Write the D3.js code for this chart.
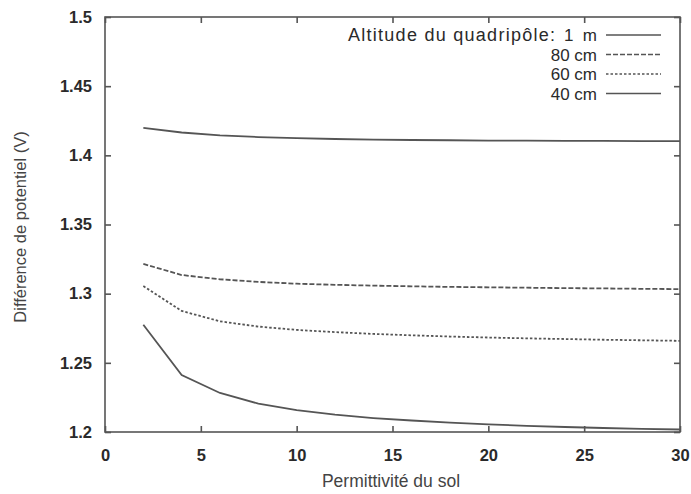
<!DOCTYPE html>
<html><head><meta charset="utf-8">
<script src="https://cdn.jsdelivr.net/npm/d3@7"></script>
<style>
body{margin:0;background:#fff;}
text{font-family:"Liberation Sans",Arial,Helvetica,sans-serif;}
</style></head>
<body>
<svg id="c" width="691" height="494"></svg>
<script>
const xValues = [2,4,6,8,10,12,14,16,18,20,22,24,26,28,30];
const seriesNames = ["1  m","80 cm","60 cm","40 cm"];
const alt1m  = [1.4198,1.4165,1.4145,1.4132,1.4124,1.4118,1.4114,1.4111,1.4109,1.4107,1.4106,1.4105,1.4104,1.4103,1.4102];
const alt80  = [1.3215,1.3135,1.3104,1.3085,1.3072,1.3064,1.3058,1.3053,1.3049,1.3046,1.3043,1.3040,1.3038,1.3035,1.3033];
const alt60  = [1.3055,1.2875,1.2800,1.2762,1.2738,1.2722,1.2709,1.2699,1.2690,1.2683,1.2677,1.2672,1.2667,1.2663,1.2659];
const alt40  = [1.2775,1.2412,1.2282,1.2205,1.2158,1.2125,1.2101,1.2083,1.2068,1.2055,1.2045,1.2036,1.2029,1.2023,1.2018];
const xTicks = [0,5,10,15,20,25,30];
const yTicks = [1.2,1.25,1.3,1.35,1.4,1.45,1.5];
const yTickLabels = ["1.2","1.25","1.3","1.35","1.4","1.45","1.5"];
const legendTitle = "Altitude du quadripôle:";
const xLabel = "Permittivité du sol";
const yLabel = "Différence de potentiel (V)";

const series = [alt1m, alt80, alt60, alt40];
const dashes = [null, "5,2", "2.5,2", null];
const col = "#555";
const txt = "#2a2a2a";
const txt2 = "#444";

const L=105, R=680, T=17, B=432;
const svg = d3.select("#c");
const x = d3.scaleLinear().domain([0,30]).range([L,R]);
const y = d3.scaleLinear().domain([1.2,1.5]).range([B,T]);

// frame
svg.append("rect").attr("x",L).attr("y",T).attr("width",R-L).attr("height",B-T)
  .attr("fill","none").attr("stroke",col).attr("stroke-width",1.6);

// axes with inward ticks
const ax = svg.append("g").attr("transform",`translate(0,${B})`)
  .call(d3.axisBottom(x).tickValues(xTicks).tickSizeInner(-6).tickSizeOuter(0).tickPadding(17).tickFormat(d3.format("d")));
const axT = svg.append("g").attr("transform",`translate(0,${T})`)
  .call(d3.axisTop(x).tickValues(xTicks).tickSizeInner(-6).tickSizeOuter(0).tickFormat(""));
const ay = svg.append("g").attr("transform",`translate(${L},0)`)
  .call(d3.axisLeft(y).tickValues(yTicks).tickSizeInner(-6).tickSizeOuter(0).tickPadding(13).tickFormat((d,i)=>yTickLabels[i]));
const ayR = svg.append("g").attr("transform",`translate(${R},0)`)
  .call(d3.axisRight(y).tickValues(yTicks).tickSizeInner(-6).tickSizeOuter(0).tickFormat(""));
[ax,axT,ay,ayR].forEach(g=>{
  g.select(".domain").remove();
  g.selectAll("line").attr("stroke",col).attr("stroke-width",1.6);
  g.selectAll("text").attr("fill",txt).attr("font-size",16.5).attr("font-weight","bold");
});

// axis labels
svg.append("text").attr("x",391).attr("y",487).attr("text-anchor","middle")
  .attr("font-size",17.5).attr("fill",txt2).text(xLabel);
svg.append("text").attr("transform",`translate(26,227) rotate(-90)`).attr("text-anchor","middle")
  .attr("font-size",16.5).attr("fill",txt2).text(yLabel);

// lines
const line = d3.line().x((d,i)=>x(xValues[i])).y(d=>y(d));
series.forEach((s,k)=>{
  svg.append("path").datum(s).attr("d",line).attr("fill","none")
    .attr("stroke",col).attr("stroke-width",1.8)
    .attr("stroke-dasharray",dashes[k]);
});

// legend
const ly0 = 35, ldy = 19.5, ltx = 597, lx1 = 606, lx2 = 661;
svg.append("text").attr("x",348).attr("y",ly0+6).attr("font-size",18)
  .attr("fill",txt).attr("textLength",207).attr("lengthAdjust","spacing").text(legendTitle);
seriesNames.forEach((n,k)=>{
  const yy = ly0 + k*ldy;
  svg.append("text").attr("x",ltx).attr("y",yy+6).attr("text-anchor","end")
    .attr("font-size",17).attr("fill",txt).style("white-space","pre").text(n);
  svg.append("line").attr("x1",lx1).attr("x2",lx2).attr("y1",yy).attr("y2",yy)
    .attr("stroke",col).attr("stroke-width",1.6).attr("stroke-dasharray",dashes[k]);
});
</script>
</body></html>
